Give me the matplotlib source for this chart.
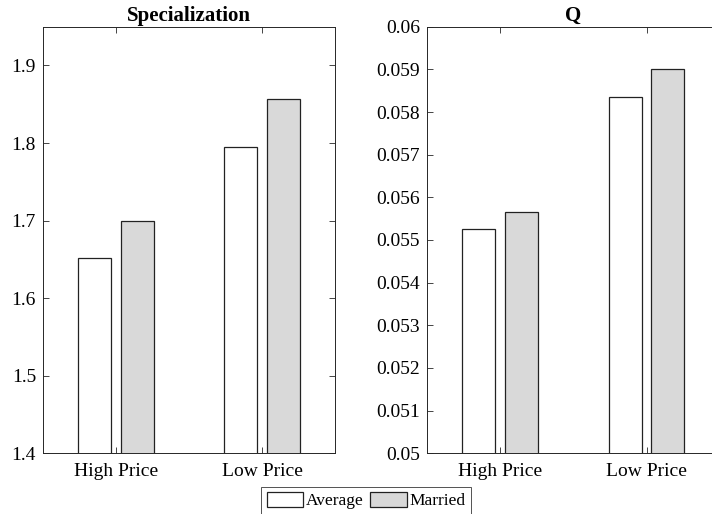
import numpy as np
import matplotlib.pyplot as plt
from matplotlib.patches import Patch

plt.rcParams['font.family'] = ['Liberation Serif', 'DejaVu Serif']

categories = ['High Price', 'Low Price']
series = ['Average', 'Married']
spec_avg = [1.652, 1.795]
spec_mar = [1.700, 1.857]
q_avg = [0.05525, 0.05834]
q_mar = [0.05566, 0.05901]

colors = ['white', '#d9d9d9']
edge = '#222222'

fig = plt.figure(figsize=(7.12, 5.14), dpi=100)
ax1 = fig.add_axes([0.0604, 0.1181, 0.4101, 0.8300])
ax2 = fig.add_axes([0.5993, 0.1181, 0.4120, 0.8300])

x = np.arange(len(categories)) + 1
w = 0.225
off = 0.145


def draw(ax, avg, mar, title, ylim, yticks, fmt):
    ax.bar(x - off, avg, w, color=colors[0], edgecolor=edge, linewidth=0.9)
    ax.bar(x + off, mar, w, color=colors[1], edgecolor=edge, linewidth=0.9)
    ax.set_xlim(0.5, 2.5)
    ax.set_ylim(*ylim)
    ax.set_yticks(yticks)
    ax.set_yticklabels([fmt(v) for v in yticks])
    ax.set_xticks(x)
    ax.set_xticklabels(categories)
    ax.set_title(title, fontweight='bold', fontsize=15, pad=4)
    ax.tick_params(direction='in', top=True, right=True, length=4, width=0.6,
                   labelsize=14, color='#262626')
    ax.tick_params(axis='y', pad=5)
    ax.tick_params(axis='x', pad=7)
    for s in ax.spines.values():
        s.set_linewidth(0.7)
        s.set_color('#262626')


draw(ax1, spec_avg, spec_mar, 'Specialization', (1.4, 1.95),
     [1.4, 1.5, 1.6, 1.7, 1.8, 1.9], lambda v: f'{v:g}')
draw(ax2, q_avg, q_mar, 'Q', (0.05, 0.06),
     np.round(np.arange(0.05, 0.06001, 0.001), 3), lambda v: f'{v:g}')

handles = [Patch(facecolor=colors[i], edgecolor=edge, linewidth=0.9, label=series[i])
           for i in range(2)]
leg = fig.legend(handles=handles, loc='upper center', ncol=2,
                 bbox_to_anchor=(366 / 712, 27 / 514), fontsize=12.5,
                 handlelength=2.1, handleheight=0.9, handletextpad=0.15,
                 columnspacing=0.4, borderpad=0.3, borderaxespad=0,
                 fancybox=False, frameon=True)
leg.get_frame().set_edgecolor('#262626')
leg.get_frame().set_linewidth(0.7)

fig.savefig('out.png', dpi=100)
